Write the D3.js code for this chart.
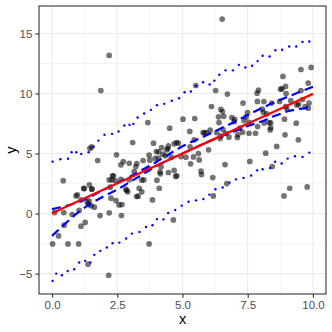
<!DOCTYPE html>
<html><head><meta charset="utf-8">
<script src="https://cdn.jsdelivr.net/npm/d3@7"></script>
<style>body{margin:0;background:#fff;}svg{display:block;font-family:"Liberation Sans",Arial,sans-serif;}</style>
</head><body>
<script>
// scatter points
const ptX = [0.02,0.10,0.25,0.43,0.45,0.46,0.61,0.77,0.92,0.97,1.02,1.04,1.11,1.11,1.21,1.24,1.27,1.35,1.38,1.40,1.42,1.43,1.45,1.50,1.52,1.53,1.52,1.62,1.75,1.84,1.87,2.17,2.19,2.19,2.23,2.19,2.26,2.29,2.32,2.35,2.42,2.45,2.47,2.57,2.64,2.64,2.66,2.68,2.73,2.83,2.86,2.90,2.96,2.96,3.09,3.15,3.21,3.24,3.30,3.34,3.25,3.44,3.44,3.49,3.52,3.67,3.70,3.72,3.72,3.75,3.85,3.89,3.95,4.00,4.02,4.08,4.08,4.11,4.14,4.15,4.18,4.20,4.25,4.34,4.40,4.44,4.46,4.46,4.51,4.57,4.65,4.68,4.68,4.77,4.84,4.74,4.78,4.94,5.02,5.13,5.28,5.29,5.31,5.42,5.45,5.47,5.51,5.61,5.64,5.71,5.73,5.79,5.84,5.92,6.00,6.06,6.11,6.16,6.18,6.27,6.31,6.38,6.40,6.44,6.47,6.52,6.53,6.58,6.47,6.55,6.63,6.66,6.70,6.72,6.78,6.89,6.98,7.00,7.10,7.12,7.20,7.30,7.32,7.36,7.44,7.49,7.55,7.56,7.58,7.80,7.87,7.86,7.88,7.91,8.06,8.10,8.12,8.13,8.19,8.23,8.32,8.36,8.38,8.38,8.42,8.44,8.61,8.72,8.76,8.81,8.85,8.89,8.95,8.97,8.95,9.00,8.91,8.93,9.11,9.15,9.36,9.38,9.44,9.45,9.54,9.54,9.60,9.70,9.78,9.82,9.82,9.93,9.85];
const ptY = [-2.53,0.08,-1.86,2.74,0.08,-0.97,-2.53,-0.08,1.47,1.56,-2.53,0.26,-1.05,1.14,2.09,2.08,-0.74,0.95,-4.22,0.75,1.05,2.40,5.43,0.65,5.55,2.03,2.05,0.53,4.42,-0.17,10.25,-5.14,0.06,13.17,2.20,2.80,1.28,2.81,3.14,3.15,2.75,1.08,4.89,0.72,2.86,4.06,-0.16,0.75,4.33,2.03,1.92,1.81,4.19,2.81,5.92,3.50,3.92,1.42,1.45,2.11,4.17,2.78,1.81,4.42,2.81,7.58,3.75,-2.53,4.86,4.45,1.14,5.86,4.60,5.17,2.78,4.61,5.14,2.11,3.47,3.31,3.90,5.50,4.95,4.81,5.31,5.42,5.64,3.42,7.11,4.70,-0.53,5.81,3.59,5.92,5.86,3.09,3.14,4.75,7.86,4.70,6.84,5.56,4.14,4.72,6.14,7.92,10.67,5.00,4.47,3.53,3.25,6.75,6.72,6.75,5.31,6.95,8.92,3.00,1.47,10.25,6.75,8.06,7.58,6.25,8.69,16.20,8.50,8.10,6.47,7.00,4.08,6.69,2.50,9.95,6.36,8.00,7.65,7.85,6.33,6.56,7.11,6.78,9.20,7.75,8.05,8.42,6.69,7.60,4.34,6.69,9.34,10.03,7.25,10.28,8.70,8.45,9.33,7.55,5.03,8.30,7.58,6.97,7.55,7.15,9.20,3.92,5.59,9.34,10.36,10.39,11.42,1.47,10.59,10.00,8.92,8.75,7.86,6.56,2.11,9.40,7.53,9.05,6.14,9.10,12.00,10.25,9.50,8.90,2.22,10.87,8.78,12.17,9.20];

// dotted bands
const upX = [0.02,0.32,0.61,0.75,0.93,1.12,1.40,1.59,1.78,2.01,2.30,2.55,2.77,2.97,3.12,3.28,3.53,3.79,4.02,4.30,4.59,4.87,5.08,5.32,5.52,5.79,6.04,6.22,6.41,6.65,6.93,7.16,7.41,7.67,7.88,8.07,8.34,8.56,8.82,9.09,9.36,9.60,9.86];
const upY = [4.33,4.53,4.56,5.11,5.11,4.97,5.11,5.58,6.08,6.56,6.64,6.83,7.33,7.39,7.47,8.00,8.33,8.64,9.03,9.14,9.40,9.60,10.10,10.17,10.64,10.94,10.75,11.07,11.56,11.93,11.93,12.39,12.17,12.31,12.70,13.14,13.08,13.60,13.64,13.92,13.92,14.30,14.33];
const loX = [0.02,0.16,0.38,0.60,0.85,1.04,1.27,1.47,1.62,1.85,2.10,2.32,2.58,2.84,3.06,3.35,3.60,3.85,4.02,4.27,4.45,4.72,4.97,5.23,5.52,5.80,6.03,6.26,6.54,6.80,7.05,7.34,7.63,7.86,8.07,8.36,8.55,8.80,9.03,9.31,9.60,9.86];
const loY = [-5.61,-5.00,-5.14,-4.78,-4.64,-4.08,-3.94,-4.08,-3.44,-3.11,-2.83,-2.47,-2.42,-2.08,-1.67,-1.54,-1.12,-0.97,-0.46,-0.48,0.05,0.30,0.66,0.98,1.10,1.21,1.58,2.03,2.17,2.58,2.85,2.97,3.17,3.60,3.69,3.80,4.31,4.17,4.58,4.78,4.72,5.08];

// fitted curves
const fitX = [0,1,2,3,4,5,6,7,8,9,10];
const fitRed = [0.03,1.02,2.02,3.01,4.01,5.00,5.99,6.99,7.98,8.98,9.97];
const qA = [0.37,0.95,2.00,3.10,4.30,5.60,6.60,7.65,8.75,9.70,10.56];
const qBX = [0,0.5,1,1.5,2,2.5,3,3.5,4,4.5,5,5.5,6,6.5,7,7.5,8,8.5,9,9.5,10];
const qB = [-1.86,-0.85,0.10,0.85,1.45,2.00,2.65,3.30,3.95,4.50,5.00,5.50,6.00,6.45,6.85,7.30,7.65,8.10,8.50,8.72,8.83];

const xTicks = [0,2.5,5,7.5,10];
const xLabels = ["0.0","2.5","5.0","7.5","10.0"];
const yTicks = [-5,0,5,10,15];
const yLabels = ["-5","0","5","10","15"];

const W = 332, H = 332;
const panel = {l:39, r:326, t:6, b:294};

const allX = [].concat(ptX, upX, loX, fitX);
const allY = [].concat(ptY, upY, loY, fitRed, qA, qB);
const xe = d3.extent(allX), ye = d3.extent(allY);
const xp = (xe[1]-xe[0])*0.05, yp = (ye[1]-ye[0])*0.05;
const x = d3.scaleLinear().domain([xe[0]-xp, xe[1]+xp]).range([panel.l, panel.r]);
const y = d3.scaleLinear().domain([ye[0]-yp, ye[1]+yp]).range([panel.b, panel.t]);

const svg = d3.select("body").append("svg").attr("width", W).attr("height", H);
svg.append("rect").attr("width", W).attr("height", H).attr("fill", "#fff");

const grid = svg.append("g");
const xMinor = [1.25,3.75,6.25,8.75], yMinor = [-2.5,2.5,7.5,12.5];
grid.selectAll(".xm").data(xMinor).enter().append("line")
  .attr("x1", d=>x(d)).attr("x2", d=>x(d)).attr("y1", panel.t).attr("y2", panel.b)
  .attr("stroke", "#ebebeb").attr("stroke-width", 0.55);
grid.selectAll(".ym").data(yMinor).enter().append("line")
  .attr("y1", d=>y(d)).attr("y2", d=>y(d)).attr("x1", panel.l).attr("x2", panel.r)
  .attr("stroke", "#ebebeb").attr("stroke-width", 0.55);
grid.selectAll(".xM").data(xTicks).enter().append("line")
  .attr("x1", d=>x(d)).attr("x2", d=>x(d)).attr("y1", panel.t).attr("y2", panel.b)
  .attr("stroke", "#ebebeb").attr("stroke-width", 1.1);
grid.selectAll(".yM").data(yTicks).enter().append("line")
  .attr("y1", d=>y(d)).attr("y2", d=>y(d)).attr("x1", panel.l).attr("x2", panel.r)
  .attr("stroke", "#ebebeb").attr("stroke-width", 1.1);

// points
svg.append("g").selectAll("circle").data(ptX.map((v,i)=>[v, ptY[i]])).enter().append("circle")
  .attr("cx", d=>x(d[0])).attr("cy", d=>y(d[1])).attr("r", 2.85)
  .attr("fill", "#000").attr("fill-opacity", 0.55);

// fitted lines
const line = d3.line().x(d=>x(d[0])).y(d=>y(d[1])).curve(d3.curveMonotoneX);
svg.append("path").datum(fitX.map((v,i)=>[v, qA[i]])).attr("d", line)
  .attr("fill","none").attr("stroke","#0000ff").attr("stroke-width",2.2).attr("stroke-dasharray","9,5");
svg.append("path").datum(qBX.map((v,i)=>[v, qB[i]])).attr("d", line)
  .attr("fill","none").attr("stroke","#0000ff").attr("stroke-width",2.2).attr("stroke-dasharray","9,5");
svg.append("path").datum(fitX.map((v,i)=>[v, fitRed[i]])).attr("d", d3.line().x(d=>x(d[0])).y(d=>y(d[1])))
  .attr("fill","none").attr("stroke","#ff0000").attr("stroke-width",2.3);

// dotted bands
const dots = svg.append("g").attr("fill","#0000ff");
dots.selectAll(".u").data(upX.map((v,i)=>[v, upY[i]])).enter().append("circle")
  .attr("cx", d=>x(d[0])).attr("cy", d=>y(d[1])).attr("r", 1.2);
dots.selectAll(".l").data(loX.map((v,i)=>[v, loY[i]])).enter().append("circle")
  .attr("cx", d=>x(d[0])).attr("cy", d=>y(d[1])).attr("r", 1.2);

// border
svg.append("rect").attr("x", panel.l).attr("y", panel.t)
  .attr("width", panel.r-panel.l).attr("height", panel.b-panel.t)
  .attr("fill","none").attr("stroke","#333").attr("stroke-width",1.1);

// axes
const xAxis = d3.axisBottom(x).tickValues(xTicks).tickFormat((d,i)=>xLabels[i]).tickSize(3.7).tickPadding(3);
const yAxis = d3.axisLeft(y).tickValues(yTicks).tickFormat((d,i)=>yLabels[i].replace("-","\u2212")).tickSize(3.7).tickPadding(3);
const gx = svg.append("g").attr("transform", `translate(0,${panel.b})`).call(xAxis);
const gy = svg.append("g").attr("transform", `translate(${panel.l},0)`).call(yAxis);
[gx, gy].forEach(g=>{
  g.select(".domain").remove();
  g.selectAll(".tick line").attr("stroke","#333").attr("stroke-width",1.1);
  g.selectAll(".tick text").attr("fill","#4d4d4d").style("font-size","11.5px").style("font-family","Liberation Sans, Arial, sans-serif");
});

svg.append("text").attr("x", (panel.l+panel.r)/2).attr("y", 324).attr("text-anchor","middle")
  .style("font-size","14.5px").attr("fill","#000").text("x");
svg.append("text").attr("transform", `translate(16,${(panel.t+panel.b)/2}) rotate(-90)`).attr("text-anchor","middle")
  .style("font-size","14.5px").attr("fill","#000").text("y");
</script>
</body></html>
